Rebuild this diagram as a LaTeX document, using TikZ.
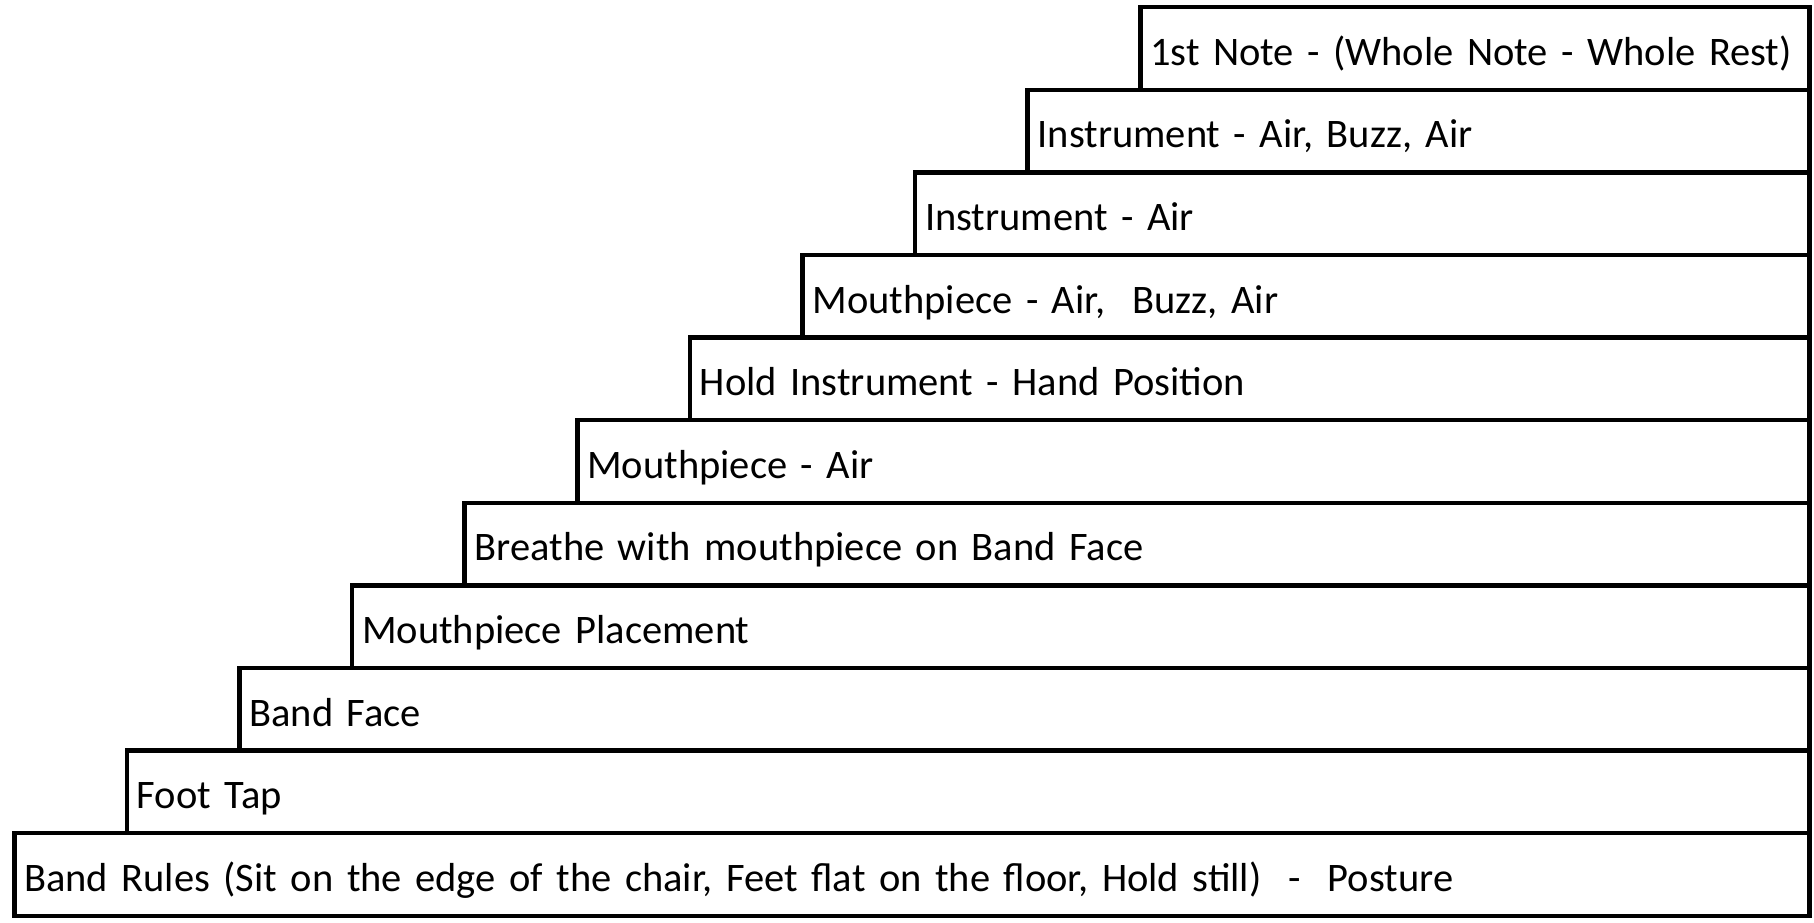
\documentclass[tikz,border=0pt]{standalone}
\usepackage{fontspec}
\setmainfont{Carlito}
\begin{document}
\begin{tikzpicture}[x=1pt,y=-1pt,
  stepbox/.style={draw=black, line width=4.5pt, anchor=south west, inner xsep=10pt, inner ysep=0pt,
    minimum height=82.6pt, text height=35pt, text depth=1.4pt, align=left,
    font=\fontsize{40.5}{48}\selectfont}]
\useasboundingbox (0,0) rectangle (1814,922);
\foreach \i/\t in {0/{Band Rules (Sit on the edge of the chair, Feet flat on the floor, Hold still)~~-~~Posture},
                   1/{Foot Tap},
                   2/{Band Face},
                   3/{Mouthpiece Placement},
                   4/{Breathe with mouthpiece on Band Face},
                   5/{Mouthpiece - Air},
                   6/{Hold Instrument - Hand Position},
                   7/{Mouthpiece - Air,~~Buzz, Air},
                   8/{Instrument - Air},
                   9/{Instrument - Air, Buzz, Air},
                   10/{1st Note - (Whole Note - Whole Rest)}}{
  \pgfmathsetmacro{\lx}{12+\i*112.6}
  \pgfmathsetmacro{\by}{918-\i*82.6}
  \pgfmathsetmacro{\tw}{1807-\lx-20}
  \node[stepbox, text width=\tw pt] (s\i) at (\lx,\by) {\mbox{\t}};
}
\end{tikzpicture}
\end{document}
